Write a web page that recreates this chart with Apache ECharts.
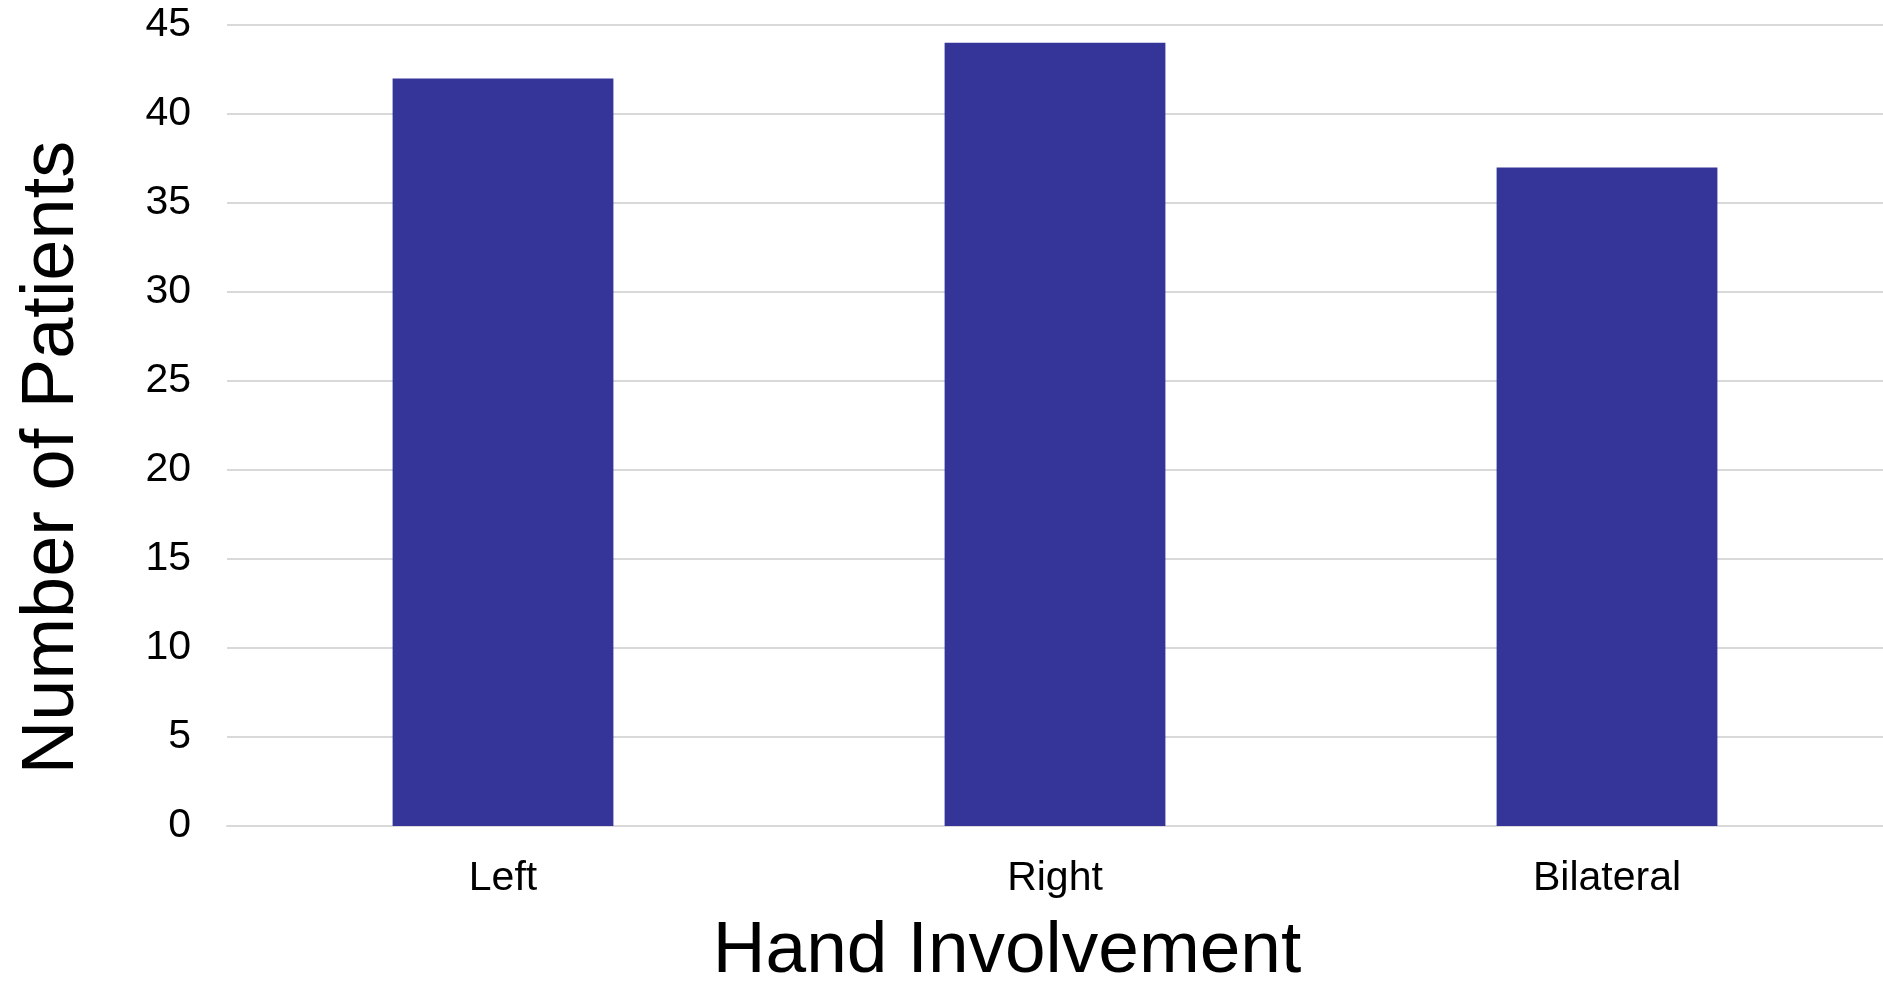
<!DOCTYPE html>
<html>
<head>
<meta charset="utf-8">
<title>Hand Involvement</title>
<script src="https://cdn.jsdelivr.net/npm/echarts@6/dist/echarts.min.js"></script>
<style>
  html, body { margin: 0; padding: 0; background: #ffffff; overflow: hidden; }
  #chart { width: 1883px; height: 993px; }
</style>
</head>
<body>
<div id="chart"></div>
<script>
// Patients grouped by which hand is involved
const categories = ['Left', 'Right', 'Bilateral'];
const patientCounts = [42, 44, 37];
const yTicks = { min: 0, max: 45, interval: 5 };

const FONT = '"Liberation Sans", Arial, Helvetica, sans-serif';
const GRID_GRAY = '#d9d9d9';

const chart = echarts.init(document.getElementById('chart'), null, { renderer: 'canvas' });

chart.setOption({
  backgroundColor: '#ffffff',
  animation: false,
  // plot area fixed in pixels; it runs slightly past the right edge
  grid: { left: 227, top: 25, width: 1665, height: 811, containLabel: false },
  xAxis: {
    type: 'category',
    data: categories,
    name: 'Hand Involvement',
    nameLocation: 'middle',
    nameGap: 89,
    nameTextStyle: { fontFamily: FONT, fontSize: 73, color: '#000', padding: [0, 96, 0, 0] },
    axisLine: { show: true, lineStyle: { color: GRID_GRAY, width: 2 } },
    axisTick: { show: false },
    axisLabel: { fontFamily: FONT, fontSize: 41, color: '#000', margin: 32 }
  },
  yAxis: {
    type: 'value',
    min: yTicks.min,
    max: yTicks.max,
    interval: yTicks.interval,
    name: 'Number of Patients',
    nameLocation: 'middle',
    nameRotate: 90,
    nameGap: 137,
    nameTextStyle: { fontFamily: FONT, fontSize: 74, color: '#000', padding: [0, 64, 0, 0] },
    axisLine: { show: false },
    axisTick: { show: false },
    splitLine: { show: true, lineStyle: { color: GRID_GRAY, width: 2 } },
    axisLabel: { fontFamily: FONT, fontSize: 41, color: '#000', margin: 36 }
  },
  series: [{
    type: 'bar',
    data: patientCounts,
    barWidth: '40%',
    itemStyle: { color: '#353499' }
  }]
});
</script>
</body>
</html>
